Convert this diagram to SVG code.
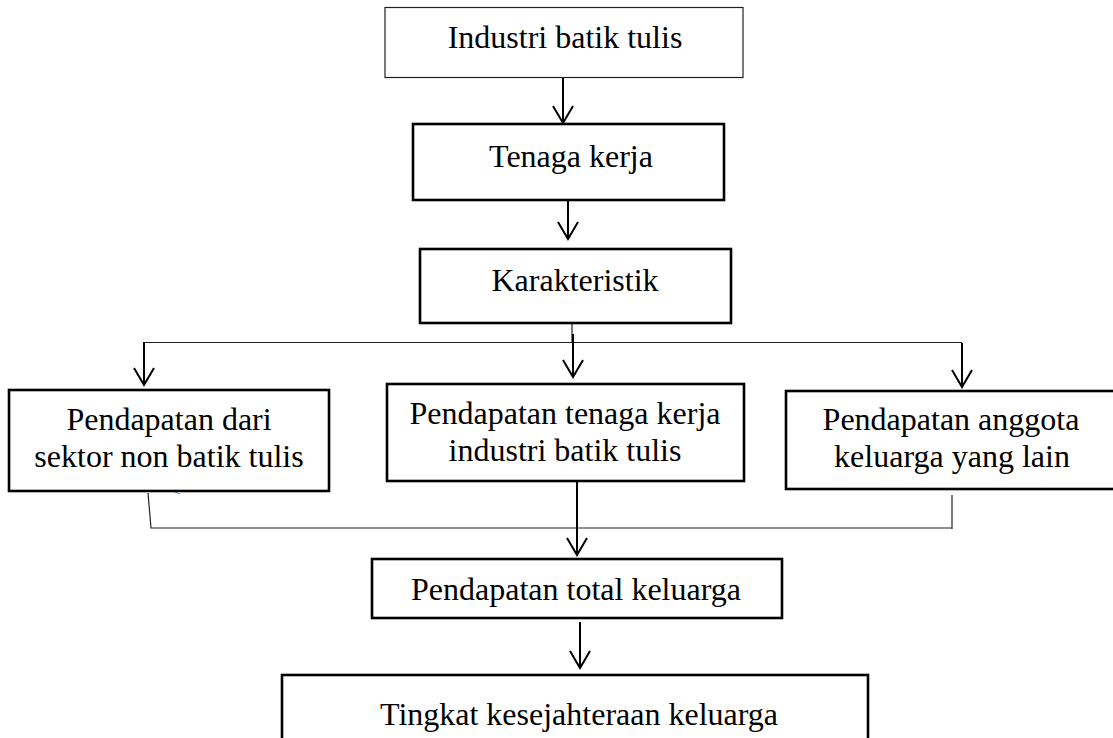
<svg xmlns="http://www.w3.org/2000/svg" width="1113" height="738" viewBox="0 0 1113 738">
<style>
.box{fill:#fff;stroke:#000;stroke-width:2.6}
.thin{fill:#fff;stroke:#222;stroke-width:1.2}
.t{font-family:"Liberation Serif","Times New Roman",serif;font-size:32px;fill:#000;text-anchor:middle}
.arr{stroke:#000;stroke-width:2;fill:none}
.ln{stroke:#222;stroke-width:1.2;fill:none}
</style>
<defs>
<marker id="ah" markerUnits="userSpaceOnUse" markerWidth="40" markerHeight="40" refX="0" refY="0" viewBox="-20 -20 40 40" orient="auto" overflow="visible">
<path d="M-17,-10 L0,0 L-17,10" fill="none" stroke="#000" stroke-width="2"/>
</marker>
</defs>
<rect width="1113" height="738" fill="#fff"/>
<g id="connectors">
<line class="arr" x1="563" y1="78" x2="563" y2="123" marker-end="url(#ah)"/>
<line class="arr" x1="568" y1="201" x2="568" y2="239" marker-end="url(#ah)"/>
<line class="ln" x1="572" y1="324" x2="572" y2="343"/>
<line class="ln" x1="144" y1="342.5" x2="962" y2="342.5"/>
<line class="arr" x1="573" y1="334" x2="573" y2="377" marker-end="url(#ah)"/>
<line class="arr" x1="144" y1="342" x2="144" y2="385" marker-end="url(#ah)"/>
<line class="arr" x1="962" y1="343" x2="962" y2="387" marker-end="url(#ah)"/>
<polyline class="ln" points="148,493 151,528 952,528"/>
<line class="ln" x1="952" y1="495" x2="952" y2="529"/>
<line x1="170" y1="490" x2="180" y2="494" stroke="#5b9bd5" stroke-width="1"/>
<line class="arr" x1="577" y1="482" x2="577" y2="555" marker-end="url(#ah)"/>
<line class="arr" x1="580" y1="622" x2="580" y2="668" marker-end="url(#ah)"/>
</g>
<g id="n1"><rect class="thin" x="385" y="7.5" width="358" height="70"/><text class="t" x="565" y="48">Industri batik tulis</text></g>
<g id="n2"><rect class="box" x="413" y="124" width="311" height="76"/><text class="t" x="571" y="167">Tenaga kerja</text></g>
<g id="n3"><rect class="box" x="420" y="249" width="311" height="74"/><text class="t" x="575" y="291">Karakteristik</text></g>
<g id="n4"><rect class="box" x="9" y="390" width="320" height="101"/><text class="t" x="169" y="430">Pendapatan dari</text><text class="t" x="169" y="467">sektor non batik tulis</text></g>
<g id="n5"><rect class="box" x="387" y="384" width="357" height="97"/><text class="t" x="565" y="424">Pendapatan tenaga kerja</text><text class="t" x="565" y="461">industri batik tulis</text></g>
<g id="n6"><rect class="box" x="786" y="391" width="340" height="98"/><text class="t" x="951" y="430">Pendapatan anggota</text><text class="t" x="952" y="467">keluarga yang lain</text></g>
<g id="n7"><rect class="box" x="372" y="559" width="410" height="59"/><text class="t" x="576" y="600">Pendapatan total keluarga</text></g>
<g id="n8"><rect class="box" x="282" y="675" width="586" height="80"/><text class="t" x="579" y="725">Tingkat kesejahteraan keluarga</text></g>
</svg>
